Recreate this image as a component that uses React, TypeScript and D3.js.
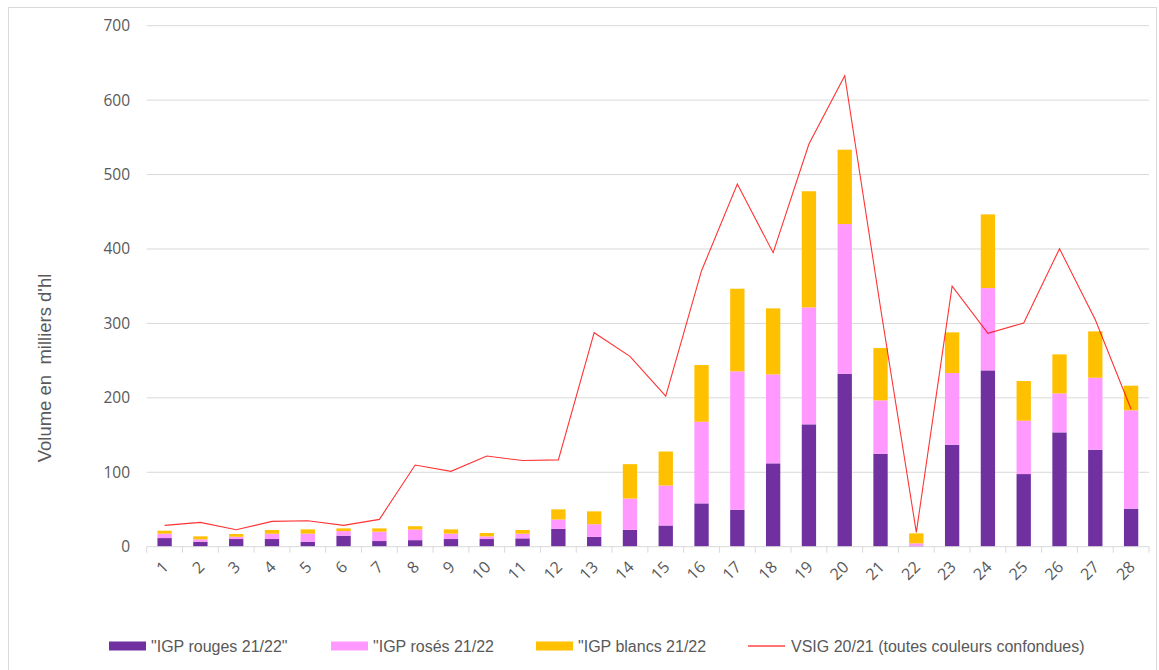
import React, { useEffect, useRef } from 'react';
import * as d3 from 'd3';

// Weeks / periods on the x axis
const categories: string[] = Array.from({ length: 28 }, (_, i) => String(i + 1));

// Stacked segments (thousands of hl)
const rouges: number[] = [11.6, 6.7, 10.3, 10.3, 6.7, 14.8, 7.6, 8.8, 10.3, 10.3, 11.2, 24.0, 13.2, 22.6, 28.5, 58.2, 49.7, 112.0, 164.4, 232.4, 124.9, 1.3, 137.0, 236.9, 97.6, 153.6, 130.3, 51.1];
const roses: number[] = [5.9, 3.2, 3.1, 7.2, 10.8, 6.2, 12.6, 14.2, 7.2, 3.6, 6.3, 12.5, 17.0, 42.1, 53.7, 109.7, 185.9, 119.5, 157.1, 201.1, 71.7, 3.2, 96.3, 110.6, 71.7, 52.4, 96.7, 132.1];
const blancs: number[] = [4.0, 4.0, 3.6, 4.9, 5.8, 3.6, 4.4, 4.5, 5.8, 4.5, 4.9, 13.7, 17.3, 46.2, 45.7, 76.2, 111.0, 88.7, 156.1, 99.9, 70.3, 13.4, 54.7, 99.0, 53.3, 52.4, 62.3, 33.1];

// Previous campaign, all colours together
const vsig: number[] = [28.7, 32.7, 22.8, 34.0, 34.9, 28.7, 36.7, 109.7, 101.2, 121.8, 115.8, 116.6, 287.5, 255.7, 202.4, 370.8, 487.2, 395.0, 541.0, 632.8, 321.0, 19.3, 350.2, 286.6, 300.5, 400.4, 305.0, 184.6];

const yTicks: number[] = [0, 100, 200, 300, 400, 500, 600, 700];

const seriesNames = ['"IGP rouges 21/22"', '"IGP rosés 21/22', '"IGP blancs 21/22'];
const lineName = 'VSIG 20/21 (toutes couleurs confondues)';
const seriesColors = ['#7030A0', '#FF99FF', '#FFC000'];
const lineColor = '#FF0000';

const App = () => {
  const svgRef = useRef<SVGSVGElement | null>(null);

  useEffect(() => {
    if (!svgRef.current) return;
    const root = d3.select(svgRef.current);
    root.selectAll('*').remove();

    const width = 1159;
    const height = 670;
    const left = 146.7;
    const right = 1149;
    const top = 25.7;
    const bottom = 546.7;
    const textColor = '#595959';
    const gridColor = '#D9D9D9';
    const font = '"Liberation Sans", Arial, sans-serif';
    const tickFont = '"Open Sans", sans-serif';

    root.attr('width', width).attr('height', height);

    // chart frame
    root.append('rect')
      .attr('x', 8.5).attr('y', 7.5)
      .attr('width', 1148).attr('height', 680)
      .attr('fill', '#fff')
      .attr('stroke', gridColor);

    const x = d3.scaleBand<string>()
      .domain(categories)
      .range([left, right])
      .paddingInner(0.6)
      .paddingOuter(0.3);
    const step = x.step();

    const y = d3.scaleLinear().domain([0, 700]).range([bottom, top]);

    // gridlines
    root.append('g')
      .selectAll('line')
      .data(yTicks.filter(t => t > 0))
      .enter()
      .append('line')
      .attr('x1', left).attr('x2', right)
      .attr('y1', d => y(d)).attr('y2', d => y(d))
      .attr('stroke', gridColor)
      .attr('stroke-width', 1);

    // y tick labels
    root.append('g')
      .selectAll('text')
      .data(yTicks)
      .enter()
      .append('text')
      .attr('x', 130)
      .attr('y', d => y(d))
      .attr('dy', '0.35em')
      .attr('text-anchor', 'end')
      .style('font-family', tickFont)
      .style('font-size', '15.5px')
      .style('fill', textColor)
      .text(d => d);

    // y axis title
    root.append('text')
      .attr('transform', `translate(51, 368) rotate(-90)`)
      .attr('text-anchor', 'middle')
      .style('font-family', font)
      .style('font-size', '18.5px')
      .style('fill', textColor)
      .style('white-space', 'pre')
      .text("Volume en  milliers d'hl");

    // stacked bars
    const rows = categories.map((c, i) => ({ cat: c, rouges: rouges[i], roses: roses[i], blancs: blancs[i] }));
    const stack = d3.stack<any>().keys(['rouges', 'roses', 'blancs'])(rows);

    root.append('g')
      .selectAll('g')
      .data(stack)
      .enter()
      .append('g')
      .attr('fill', (d, i) => seriesColors[i])
      .selectAll('rect')
      .data(d => d)
      .enter()
      .append('rect')
      .attr('x', d => x(d.data.cat) as number)
      .attr('width', x.bandwidth())
      .attr('y', d => y(d[1]))
      .attr('height', d => y(d[0]) - y(d[1]));

    // x axis line and ticks
    root.append('line')
      .attr('x1', left).attr('x2', right)
      .attr('y1', bottom).attr('y2', bottom)
      .attr('stroke', gridColor);

    root.append('g')
      .selectAll('line')
      .data(d3.range(categories.length + 1))
      .enter()
      .append('line')
      .attr('x1', i => left + i * step).attr('x2', i => left + i * step)
      .attr('y1', bottom).attr('y2', bottom + 6)
      .attr('stroke', gridColor);

    // x labels, rotated
    root.append('g')
      .selectAll('text')
      .data(categories)
      .enter()
      .append('text')
      .attr('transform', d => {
        const cx = (x(d) as number) + x.bandwidth() / 2;
        return `translate(${cx + 1}, ${564}) rotate(-45)`;
      })
      .attr('text-anchor', 'end')
      .attr('dy', '0.35em')
      .style('font-family', tickFont)
      .style('font-size', '16px')
      .style('fill', textColor)
      .text(d => d);

    // VSIG line
    const line = d3.line<number>()
      .x((d, i) => (x(categories[i]) as number) + x.bandwidth() / 2)
      .y(d => y(d));

    root.append('path')
      .datum(vsig)
      .attr('d', line)
      .attr('fill', 'none')
      .attr('stroke', lineColor)
      .attr('stroke-width', 1.1)
      .attr('stroke-opacity', 0.8);

    // legend
    const legendY = 646;
    const swatchX = [109, 331, 536];
    seriesNames.forEach((name, i) => {
      root.append('rect')
        .attr('x', swatchX[i]).attr('y', legendY - 4.5)
        .attr('width', 37).attr('height', 9)
        .attr('fill', seriesColors[i]);
      root.append('text')
        .attr('x', swatchX[i] + 42).attr('y', legendY)
        .attr('dy', '0.35em')
        .style('font-family', font)
        .style('font-size', '16px')
        .style('fill', textColor)
        .text(name);
    });
    root.append('line')
      .attr('x1', 748).attr('x2', 785)
      .attr('y1', legendY).attr('y2', legendY)
      .attr('stroke', lineColor)
      .attr('stroke-opacity', 0.55)
      .attr('stroke-width', 2);
    root.append('text')
      .attr('x', 791).attr('y', legendY)
      .attr('dy', '0.35em')
      .style('font-family', font)
      .style('font-size', '16px')
      .style('fill', textColor)
      .text(lineName);
  }, []);

  return (
    <svg ref={svgRef} style={{ position: 'absolute', left: 0, top: 0, display: 'block' }} />
  );
};

export default App;
